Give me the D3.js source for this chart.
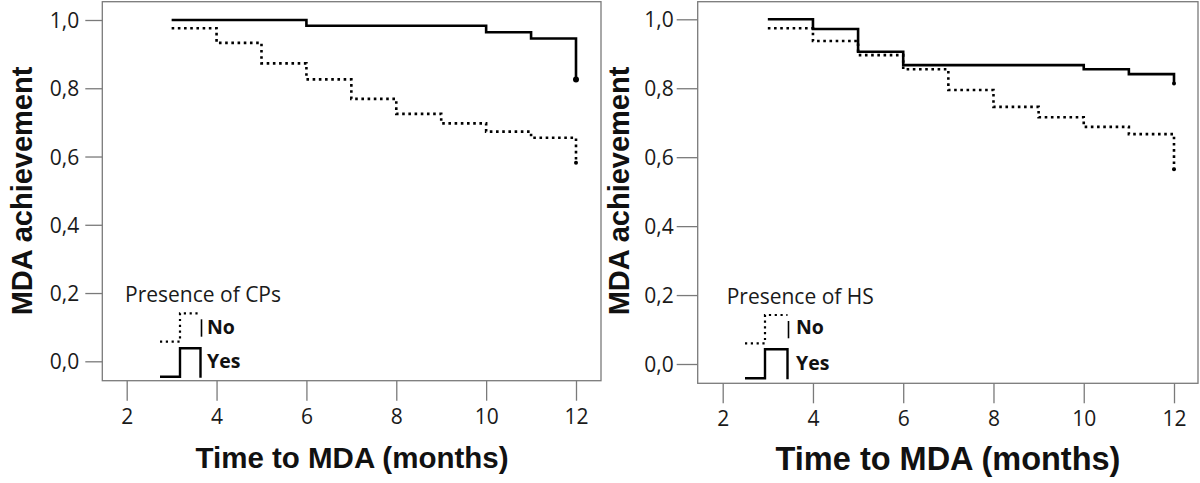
<!DOCTYPE html>
<html>
<head>
<meta charset="utf-8">
<script src="https://cdn.jsdelivr.net/npm/d3@7"></script>
<style>
  html, body { margin: 0; padding: 0; background: #fff; }
  svg { display: block; }
</style>
</head>
<body>
<svg id="chart" width="1200" height="483"></svg>
<script>
// ---------- DATA ----------
const xTicks = [2, 4, 6, 8, 10, 12];
const yTicks = [0, 0.2, 0.4, 0.6, 0.8, 1.0];
const yTickLabels = ["0,0", "0,2", "0,4", "0,6", "0,8", "1,0"];

// Left panel: Presence of CPs
const cpYesTimes = [3, 6, 10, 11, 12];
const cpYesValues = [1.0, 0.983, 0.964, 0.946, 0.826];
const cpNoTimes = [3, 4, 5, 6, 7, 8, 9, 10, 11, 12];
const cpNoValues = [0.976, 0.933, 0.873, 0.826, 0.769, 0.725, 0.697, 0.673, 0.655, 0.582];

// Right panel: Presence of HS
const hsYesTimes = [3, 4, 5, 6, 10, 11, 12];
const hsYesValues = [1.0, 0.972, 0.906, 0.867, 0.855, 0.841, 0.814];
const hsNoTimes = [3, 4, 5, 6, 7, 8, 9, 10, 11, 12];
const hsNoValues = [0.974, 0.937, 0.896, 0.855, 0.795, 0.746, 0.716, 0.688, 0.667, 0.565];

const legendLabels = ["No", "Yes"];
const xTitle = "Time to MDA (months)";
const yTitle = "MDA achievement";

// ---------- DRAW ----------
const svg = d3.select("#chart");
const tickFont = "'Open Sans', sans-serif";
const titleFont = "'Liberation Sans', Arial, sans-serif";

function panel(cfg) {
  const g = svg.append("g");
  const x = d3.scaleLinear().domain([2, 12]).range([cfg.x2, cfg.x12]);
  const y = d3.scaleLinear().domain([0, 1]).range([cfg.y0, cfg.y1]);

  // frame
  g.append("rect")
    .attr("x", cfg.fl).attr("y", cfg.ft)
    .attr("width", cfg.fr - cfg.fl).attr("height", cfg.fb - cfg.ft)
    .attr("fill", "none").attr("stroke", "#7a7a7a").attr("stroke-width", 1.3);

  // y axis
  const ya = g.append("g").attr("transform", `translate(${cfg.fl},0)`)
    .call(d3.axisLeft(y).tickValues(yTicks)
      .tickFormat((d, i) => yTickLabels[i])
      .tickSize(cfg.yTickLen).tickPadding(cfg.yPad));
  ya.select(".domain").remove();
  ya.selectAll(".tick line").attr("stroke", "#7a7a7a").attr("stroke-width", 1.3);
  ya.selectAll(".tick text").attr("font-family", tickFont).attr("font-size", 21)
    .attr("fill", "#1a1a1a").attr("dy", "0.36em");

  // x axis
  const xa = g.append("g").attr("transform", `translate(0,${cfg.fb})`)
    .call(d3.axisBottom(x).tickValues(xTicks).tickFormat(d3.format("d"))
      .tickSize(20).tickPadding(8));
  xa.select(".domain").remove();
  xa.selectAll(".tick line").attr("stroke", "#7a7a7a").attr("stroke-width", 1.3);
  xa.selectAll(".tick text").attr("font-family", tickFont).attr("font-size", 21)
    .attr("fill", "#1a1a1a").attr("dy", "0.71em");

  const line = d3.line().x(d => x(d[0])).y(d => y(d[1])).curve(d3.curveStepAfter);

  const noPts = cfg.noT.map((t, i) => [t, cfg.noV[i]]);
  const yesPts = cfg.yesT.map((t, i) => [t, cfg.yesV[i]]);

  g.append("path").datum(noPts).attr("d", line)
    .attr("fill", "none").attr("stroke", "#000").attr("stroke-width", 2.6)
    .attr("stroke-dasharray", "2.6,3.6");
  g.append("path").datum(yesPts).attr("d", line)
    .attr("fill", "none").attr("stroke", "#000").attr("stroke-width", 2.6);

  // end markers
  const lastYes = yesPts[yesPts.length - 1];
  const lastNo = noPts[noPts.length - 1];
  g.append("circle").attr("cx", x(lastYes[0])).attr("cy", y(lastYes[1])).attr("r", cfg.dotR).attr("fill", "#000");
  g.append("circle").attr("cx", x(lastNo[0])).attr("cy", y(lastNo[1])).attr("r", 2).attr("fill", "#000");

  // titles
  g.append("text").attr("x", cfg.xtX).attr("y", cfg.xtY).attr("text-anchor", "middle")
    .attr("font-family", titleFont).attr("font-weight", "bold").attr("font-size", cfg.xtSize)
    .attr("fill", "#111").text(xTitle);
  g.append("text").attr("transform", `translate(${cfg.ytX},${cfg.ytY}) rotate(-90)`)
    .attr("text-anchor", "middle")
    .attr("font-family", titleFont).attr("font-weight", "bold").attr("font-size", 29)
    .attr("fill", "#111").text(yTitle);

  // legend
  const L = cfg.leg;
  g.append("text").attr("x", L.tx).attr("y", L.ty)
    .attr("font-family", tickFont).attr("font-size", 21).attr("fill", "#1a1a1a").text(cfg.legTitle);
  const seg = d3.line();
  // No glyph (dotted)
  g.append("path").attr("d", seg([[L.a, L.noLow], [L.b, L.noLow], [L.b, L.noHigh], [L.c, L.noHigh]]))
    .attr("fill", "none").attr("stroke", "#000").attr("stroke-width", 2.2).attr("stroke-dasharray", "2.2,3.6");
  g.append("line").attr("x1", L.c + 1).attr("x2", L.c + 1).attr("y1", L.noHigh + 6).attr("y2", L.noLow - 5)
    .attr("stroke", "#000").attr("stroke-width", 1.6);
  // Yes glyph (solid)
  g.append("path").attr("d", seg([[L.a, L.yesLow], [L.b, L.yesLow], [L.b, L.yesHigh], [L.c, L.yesHigh], [L.c, L.yesLow + 1]]))
    .attr("fill", "none").attr("stroke", "#000").attr("stroke-width", 2.4);
  g.append("text").attr("x", L.lx).attr("y", L.noBase)
    .attr("font-family", tickFont).attr("font-weight", "bold").attr("font-size", 19.5).attr("fill", "#111").text(legendLabels[0]);
  g.append("text").attr("x", L.lx).attr("y", L.yesBase)
    .attr("font-family", tickFont).attr("font-weight", "bold").attr("font-size", 19.5).attr("fill", "#111").text(legendLabels[1]);
}

panel({
  x2: 126.7, x12: 576, y0: 361.3, y1: 20,
  fl: 102.3, fr: 601, ft: 1.7, fb: 380.7,
  yTickLen: 17, yPad: 6,
  noT: cpNoTimes, noV: cpNoValues, yesT: cpYesTimes, yesV: cpYesValues,
  dotR: 3, xtX: 352, xtY: 468, xtSize: 29.5, ytX: 32, ytY: 191,
  legTitle: "Presence of CPs",
  leg: { tx: 125, ty: 302, a: 160, b: 180, c: 200.5, noLow: 341.7, noHigh: 313.3,
         yesLow: 376.7, yesHigh: 348.3, lx: 207, noBase: 334, yesBase: 368 }
});

panel({
  x2: 722.7, x12: 1174, y0: 364, y1: 19.3,
  fl: 697.7, fr: 1198, ft: 1.7, fb: 383.3,
  yTickLen: 21, yPad: 3,
  noT: hsNoTimes, noV: hsNoValues, yesT: hsYesTimes, yesV: hsYesValues,
  dotR: 2, xtX: 948, xtY: 470, xtSize: 32.5, ytX: 628.5, ytY: 191,
  legTitle: "Presence of HS",
  leg: { tx: 726.7, ty: 303.5, a: 745, b: 765, c: 787.5, noLow: 343.3, noHigh: 315,
         yesLow: 378.3, yesHigh: 349.3, lx: 796, noBase: 334, yesBase: 370 }
});
</script>
</body>
</html>
